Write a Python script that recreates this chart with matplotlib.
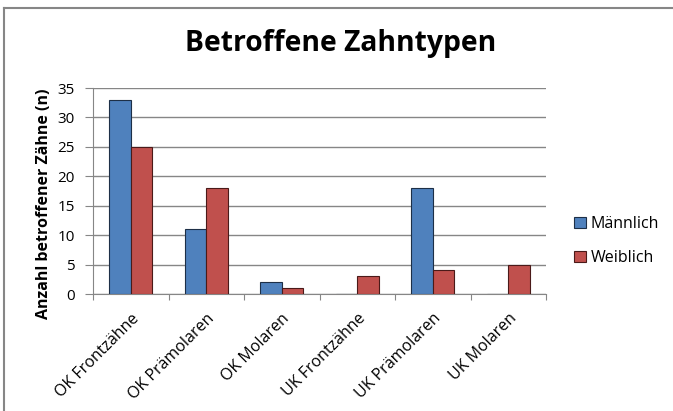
import matplotlib.pyplot as plt
from matplotlib.lines import Line2D
import numpy as np

categories = ["OK Frontzähne", "OK Prämolaren", "OK Molaren",
              "UK Frontzähne", "UK Prämolaren", "UK Molaren"]
maennlich = [33, 11, 2, 0, 18, 0]
weiblich = [25, 18, 1, 3, 4, 5]
series_names = ["Männlich", "Weiblich"]

plt.rcParams['font.family'] = ['Open Sans', 'DejaVu Sans']

fig = plt.figure(figsize=(6.73, 4.11), dpi=100)
ax = fig.add_axes([93 / 673, 1 - 294 / 411, (546 - 93) / 673, (294 - 88) / 411])

x = np.arange(len(categories))
w = 1 / 3.5  # Excel gap width 150%
ax.bar(x - w / 2, maennlich, w, color="#4F81BD", edgecolor="#1d2f47", linewidth=0.8,
       label=series_names[0], zorder=3)
ax.bar(x + w / 2, weiblich, w, color="#C0504D", edgecolor="#4a1a19", linewidth=0.8,
       label=series_names[1], zorder=3)

ax.set_xlim(-0.5, len(categories) - 0.5)
ax.set_ylim(0, 35)
ax.set_yticks(range(0, 36, 5))
ax.yaxis.grid(True, color="#868686", linewidth=1, zorder=0)

# ticks between categories, labels at centres
ax.set_xticks(np.arange(len(categories) + 1) - 0.5)
ax.set_xticklabels([])
ax.set_xticks(x, minor=True)
ax.set_xticklabels(categories, minor=True, rotation=45, ha="right",
                   rotation_mode="anchor", fontsize=11.5)
ax.tick_params(axis="x", which="minor", length=0, pad=12)
ax.tick_params(axis="x", which="major", length=4.5, color="#868686")
ax.tick_params(axis="y", length=6, color="#868686", labelsize=11, pad=7)

for s in ["top", "right"]:
    ax.spines[s].set_visible(False)
ax.spines["left"].set_color("#868686")
ax.spines["bottom"].set_color("#868686")

ax.set_ylabel("Anzahl betroffener Zähne (n)", fontsize=11.5, fontweight="bold")
ax.yaxis.set_label_coords(-0.09, 0.44)
fig.text(341 / 673, 1 - 44 / 411, "Betroffene Zahntypen", fontsize=20.3, fontweight="bold",
         ha="center", va="center")

fig.legend(loc="center left", bbox_to_anchor=(560 / 673, 1 - 241 / 411), frameon=False,
           fontsize=11.5, handlelength=0.7, handleheight=0.7, handletextpad=0.3,
           labelspacing=1.1)

# chart area border (top and left only visible)
fig.add_artist(Line2D([3.5 / 673, 3.5 / 673], [0, 1 - 8 / 411], transform=fig.transFigure,
                      color="#868686", linewidth=1.5))
fig.add_artist(Line2D([3.5 / 673, 1], [1 - 8 / 411, 1 - 8 / 411], transform=fig.transFigure,
                      color="#868686", linewidth=1.5))

fig.savefig("out.png", dpi=100)
